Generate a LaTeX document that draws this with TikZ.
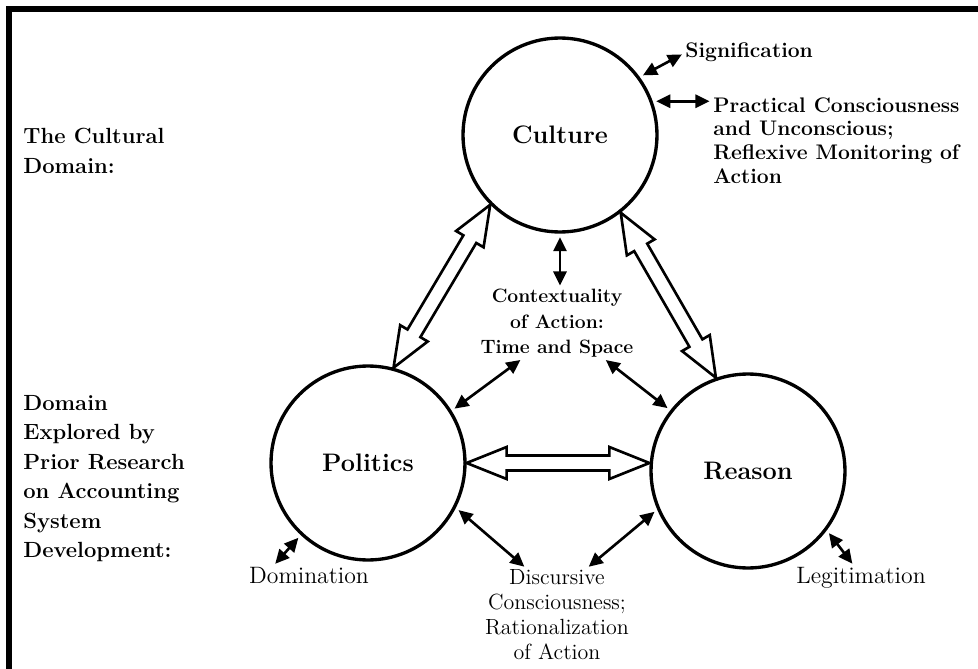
\documentclass[tikz,border=0pt]{standalone}
\usepackage{amsmath}
\usetikzlibrary{positioning,calc,arrows.meta}

\tikzset{
  sphere/.style={circle,draw,line width=1.9pt,minimum size=3.88cm,inner sep=0pt,
    font=\fontsize{14.4}{17}\selectfont\bfseries},
  side label/.style={align=left,inner sep=0pt,font=\fontsize{12.5}{16.8}\selectfont\bfseries},
  link label/.style={align=left,inner sep=0pt,font=\fontsize{12}{13.6}\selectfont\bfseries},
  context label/.style={align=center,inner sep=0pt,font=\fontsize{11}{14.5}\selectfont\bfseries},
  plain label/.style={align=center,inner sep=0pt,font=\fontsize{12.5}{14.2}\selectfont},
  link/.style={{Triangle[length=8pt,width=7.5pt]}-{Triangle[length=8pt,width=7.5pt]},
    line width=1.5pt,shorten <=2pt,shorten >=2pt},
  hollow/.style={draw,line width=1.5pt,fill=white,line join=miter}
}

% hollow double arrow between two points
\newcommand{\hollowarrow}[2]{%
  \path (#1) coordinate (ha-s) (#2) coordinate (ha-e);
  \coordinate (ha-p) at ($(ha-s)!0.8cm!(ha-e)$);
  \coordinate (ha-q) at ($(ha-e)!0.8cm!(ha-s)$);
  \draw[hollow] (ha-s) -- ($(ha-p)!0.32cm!90:(ha-e)$) -- ($(ha-p)!0.15cm!90:(ha-e)$)
    -- ($(ha-q)!0.15cm!-90:(ha-s)$) -- ($(ha-q)!0.32cm!-90:(ha-s)$) -- (ha-e)
    -- ($(ha-q)!0.32cm!90:(ha-s)$) -- ($(ha-q)!0.15cm!90:(ha-s)$)
    -- ($(ha-p)!0.15cm!-90:(ha-e)$) -- ($(ha-p)!0.32cm!-90:(ha-e)$) -- cycle;}

\begin{document}
\begin{tikzpicture}[x=0.02cm,y=-0.02cm]
\useasboundingbox (0,0) rectangle (978,669);
\clip (0,0) rectangle (978,669);
\draw[line width=3pt] (9,720) -- (9,9) -- (1000,9);

\node[sphere] (culture) at (560,135) {Culture};
\node[sphere] (politics) at (368,463) {Politics};
\node[sphere] (reason) at (748,471) {Reason};

\node[side label,anchor=north west] (cultdom) at (23,128) {The Cultural\\Domain:};
\node[side label,below=4.42cm of cultdom.south west,anchor=north west] (priordom)
  {Domain\\Explored by\\Prior Research\\on Accounting\\System\\Development:};

\node[link label,anchor=base west] (sig) at (685,58) {Signification};
\node[link label,anchor=north west] (prac) at (713,97)
  {Practical Consciousness\\and Unconscious;\\Reflexive Monitoring of\\Action};
\node[context label,anchor=north] (ctx) at (557,289) {Contextuality\\of Action:\\Time and Space};
\node[plain label,font=\fontsize{13.5}{14.2}\selectfont,anchor=base] (domin) at (309,583) {Domination};
\node[plain label,anchor=north] (disc) at (557,569)
  {Discursive\\Consciousness;\\Rationalization\\of Action};
\node[plain label,font=\fontsize{13.5}{14.2}\selectfont,anchor=base] (legit) at (861,583) {Legitimation};

\hollowarrow{culture.225}{politics.75}
\hollowarrow{culture.308}{reason.109.5}
\coordinate (pr-end) at (politics.east -| reason.west);
\hollowarrow{politics.east}{pr-end}

\draw[link] (culture.36) -- (sig.west);
\draw[link] (culture.20) -- (culture.20 -| prac.west);
\draw[link] (culture.south) -- (culture.south |- ctx.north);
\draw[link] (politics.32) -- ($(ctx.south west)!0.28!(ctx.south east)$);
\draw[link] (reason.142) -- ($(ctx.south west)!0.8!(ctx.south east)$);
\draw[link] (politics.333) -- ($(disc.north)+(-30,0)$);
\draw[link] (reason.203) -- ($(disc.north)+(29,0)$);
\draw[link] (politics.227) -- ($(domin.north west)!0.2!(domin.north east)$);
\draw[link] (reason.323) -- ($(legit.north west)!0.45!(legit.north east)$);
\end{tikzpicture}
\end{document}
